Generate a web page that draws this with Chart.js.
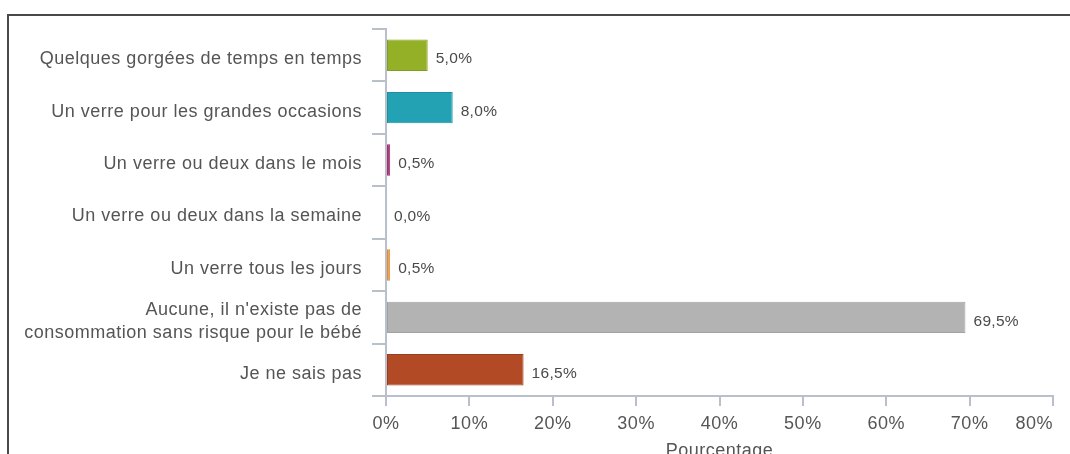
<!DOCTYPE html>
<html>
<head>
<meta charset="utf-8">
<script src="https://cdn.jsdelivr.net/npm/chart.js@4"></script>
<style>
  html, body { margin: 0; padding: 0; background: #fff; overflow: hidden; }
  #wrap { position: relative; width: 1070px; height: 454px; }
  #frame { position: absolute; left: 7px; top: 14px; width: 1080px; height: 460px;
           border-top: 2px solid #4a4a4a; border-left: 2px solid #4a4a4a; pointer-events: none; }
  canvas { position: absolute; left: 0; top: 0; }
</style>
</head>
<body>
<div id="wrap">
  <canvas id="myChart" width="1070" height="454"></canvas>
  <div id="frame"></div>
</div>
<script>
const categories = [
  'Quelques gorgées de temps en temps',
  'Un verre pour les grandes occasions',
  'Un verre ou deux dans le mois',
  'Un verre ou deux dans la semaine',
  'Un verre tous les jours',
  ["Aucune, il n'existe pas de", 'consommation sans risque pour le bébé'],
  'Je ne sais pas'
];
const values = [5.0, 8.0, 0.5, 0.0, 0.5, 69.5, 16.5];
const fillColors = ['#93b026', '#23a2b3', '#b23c7c', '#b23c7c', '#f3a24b', '#b3b3b3', '#b24a25'];
const edgeColors = ['#839d20', '#1d909f', '#9e326c', '#9e326c', '#d98d3d', '#a2a2a2', '#9c3e1d'];
const xTicks = [0, 10, 20, 30, 40, 50, 60, 70, 80];

const FONT = 'Arial, "Liberation Sans", sans-serif';
const axisColor = '#b9c0cc';

// un peu d'espacement entre les lettres, comme sur l'original
const spacing = {
  id: 'spacing',
  beforeUpdate(chart) { chart.ctx.letterSpacing = '0.5px'; },
  beforeDraw(chart) {
    chart.ctx.letterSpacing = '0.5px';
    // dernier libellé de l'axe x aligné à droite de sa graduation
    const items = chart.scales.x.getLabelItems();
    if (items.length) items[items.length - 1].options.textAlign = 'right';
  }
};

// étiquettes de valeur à droite des barres
const valueLabels = {
  id: 'valueLabels',
  afterDatasetsDraw(chart) {
    const ctx = chart.ctx;
    const meta = chart.getDatasetMeta(0);
    ctx.save();
    ctx.letterSpacing = '0.3px';
    ctx.font = '15.5px ' + FONT;
    ctx.fillStyle = '#4a4a4a';
    ctx.textBaseline = 'middle';
    ctx.textAlign = 'left';
    meta.data.forEach((bar, i) => {
      const txt = values[i].toFixed(1).replace('.', ',') + '%';
      ctx.fillText(txt, bar.x + 8, bar.y + 4);
    });
    ctx.restore();
  }
};

new Chart(document.getElementById('myChart'), {
  type: 'bar',
  data: {
    labels: categories,
    datasets: [{
      label: 'Pourcentage',
      data: values,
      backgroundColor: fillColors,
      borderColor: edgeColors,
      borderWidth: 1,
      borderSkipped: false,
      barPercentage: 0.6,
      categoryPercentage: 1
    }]
  },
  options: {
    indexAxis: 'y',
    responsive: false,
    animation: false,
    layout: { padding: { top: 29, right: 17, bottom: 0, left: 0 } },
    plugins: {
      legend: { display: false },
      tooltip: { enabled: false }
    },
    scales: {
      x: {
        min: 0,
        max: 80,
        afterFit(scale) {
          scale.height = 58;
          scale.paddingLeft = 0;
          scale.paddingRight = 0;
        },
        afterBuildTicks(scale) { scale.ticks = xTicks.map(v => ({ value: v })); },
        border: { color: axisColor, width: 2 },
        grid: { drawOnChartArea: false, tickLength: 10, color: axisColor, lineWidth: 2 },
        ticks: {
          color: '#555',
          font: { family: FONT, size: 18 },
          padding: 7,
          maxRotation: 0,
          autoSkip: false,
          callback: v => v + '%'
        },
        title: {
          display: true,
          text: 'Pourcentage',
          color: '#555',
          font: { family: FONT, size: 18 },
          padding: { top: 0, bottom: -8 }
        }
      },
      y: {
        afterFit(scale) { scale.width = 386; },
        border: { color: axisColor, width: 2 },
        grid: { drawOnChartArea: false, tickLength: 14, color: axisColor, lineWidth: 2, offset: true },
        ticks: {
          color: '#555',
          font: { family: FONT, size: 18, lineHeight: 1.25 },
          padding: 10,
          labelOffset: 4
        }
      }
    }
  },
  plugins: [spacing, valueLabels]
});
</script>
</body>
</html>
